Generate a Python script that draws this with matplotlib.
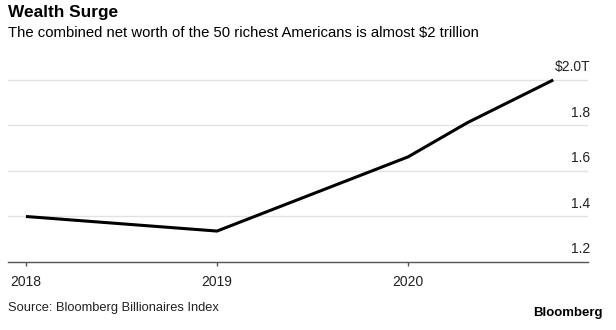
import matplotlib
matplotlib.use("Agg")
import matplotlib.pyplot as plt
import matplotlib.transforms as mtransforms

plt.rcParams['font.family'] = ['Liberation Sans', 'DejaVu Sans']

# combined net worth of the 50 richest Americans, trillions of dollars
annees = [2018.0, 2019.0, 2020.0, 2020.31, 2020.76]
fortune = [1.40, 1.336, 1.662, 1.812, 2.0]

ticks_x = [2018, 2019, 2020]
labels_x = ["2018", "2019", "2020"]
ticks_y = [1.2, 1.4, 1.6, 1.8, 2.0]
labels_y = ["1.2", "1.4", "1.6", "1.8", "$2.0T"]

W, H = 616, 330
fig = plt.figure(figsize=(W / 100, H / 100), dpi=100)
ax = fig.add_axes([8 / W, 1 - 262 / H, 580 / W, 193.4 / H])

ax.plot(annees, fortune, color="black", lw=2.2, solid_capstyle="butt",
        solid_joinstyle="miter", clip_on=False, zorder=3)

ax.set_xlim(2017.906, 2020.942)
ax.set_ylim(1.2, 2.05)

# horizontal grid + labels sitting on top of each line, right side
trans = mtransforms.blended_transform_factory(ax.transAxes, ax.transData)
for v, lab in zip(ticks_y, labels_y):
    if v > 1.2:
        ax.axhline(v, color="#e2e2e2", lw=1, zorder=1)
    ax.annotate(lab, xy=(1.0, v), xycoords=trans, xytext=(1.5, 4),
                textcoords="offset points", ha="right", va="bottom",
                fontsize=10, color="#222222")

for s in ["top", "left", "right"]:
    ax.spines[s].set_visible(False)
ax.spines["bottom"].set_color("#555555")
ax.spines["bottom"].set_linewidth(1)

ax.set_yticks([])
ax.set_xticks(ticks_x)
ax.set_xticklabels(labels_x)
ax.tick_params(axis="x", length=3, width=1, color="#555555", pad=6,
               labelsize=10, labelcolor="#222222")

fig.text(8 / W, 1 - 13 / H, "Wealth Surge", fontsize=12.4, fontweight="bold",
         va="center", ha="left", color="black")
fig.text(8 / W, 1 - 33 / H,
         "The combined net worth of the 50 richest Americans is almost $2 trillion",
         fontsize=10.7, va="center", ha="left", color="black")
fig.text(8 / W, 1 - 308 / H, "Source: Bloomberg Billionaires Index",
         fontsize=9.3, va="center", ha="left", color="#222222")
fig.text(603 / W, 1 - 313 / H, "Bloomberg", fontsize=9.5, fontweight="bold",
         va="center", ha="right", color="black")

fig.savefig("out.png", dpi=100)
